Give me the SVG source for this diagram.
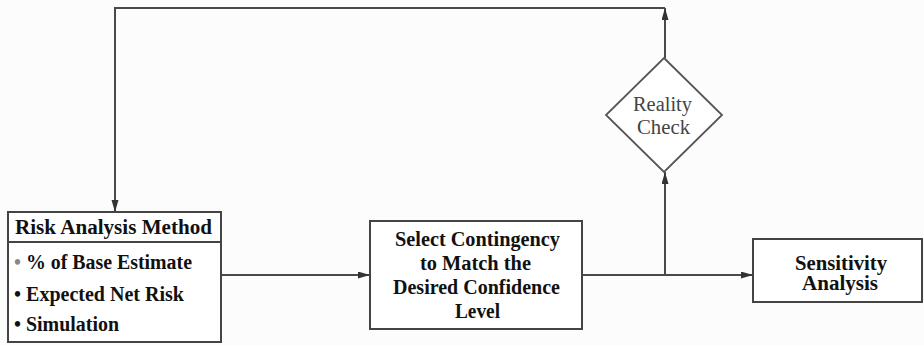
<svg xmlns="http://www.w3.org/2000/svg" width="924" height="345" viewBox="0 0 924 345">
  <style>
    .box { fill: #ffffff; stroke: #444444; stroke-width: 2; }
    .conn { fill: none; stroke: #4a4a4a; stroke-width: 2; }
    .b { font-family: "Liberation Serif", "Times New Roman", serif; font-weight: bold; font-size: 20px; fill: #111111; }
    .r { font-family: "Liberation Serif", "Times New Roman", serif; font-weight: normal; font-size: 20px; fill: #444444; }
  </style>
  <defs>
    <marker id="arrow" markerWidth="13" markerHeight="8" refX="12" refY="3.5" orient="auto" markerUnits="userSpaceOnUse">
      <path d="M0,0 L12,3.5 L0,7 z" fill="#333333"/>
    </marker>
  </defs>
  <rect x="0" y="0" width="924" height="345" fill="#fcfcfc"/>

  <g id="connectors">
    <path class="conn" d="M665,58 V8" marker-end="url(#arrow)"/>
    <path class="conn" d="M665,8 H115 V212" marker-end="url(#arrow)"/>
    <path class="conn" d="M221,275 H370" marker-end="url(#arrow)"/>
    <path class="conn" d="M582,275 H753" marker-end="url(#arrow)"/>
    <path class="conn" d="M665,275 V172" marker-end="url(#arrow)"/>
  </g>

  <g id="risk-analysis-method">
    <rect class="box" x="8" y="212" width="213" height="130"/>
    <line x1="8" y1="242" x2="221" y2="242" stroke="#444444" stroke-width="2"/>
    <text class="b" x="15" y="234" textLength="197" lengthAdjust="spacingAndGlyphs">Risk Analysis Method</text>
    <text class="b" x="14" y="269" textLength="178" lengthAdjust="spacingAndGlyphs"><tspan fill="#888888">•</tspan> % of Base Estimate</text>
    <text class="b" x="14" y="301" textLength="170" lengthAdjust="spacingAndGlyphs">• Expected Net Risk</text>
    <text class="b" x="14" y="331" textLength="105" lengthAdjust="spacingAndGlyphs">• Simulation</text>
  </g>

  <g id="select-contingency">
    <rect class="box" x="370" y="221" width="212" height="108"/>
    <text class="b" x="395" y="246" textLength="165" lengthAdjust="spacingAndGlyphs">Select Contingency</text>
    <text class="b" x="420" y="270" textLength="111" lengthAdjust="spacingAndGlyphs">to Match the</text>
    <text class="b" x="393" y="294" textLength="167" lengthAdjust="spacingAndGlyphs">Desired Confidence</text>
    <text class="b" x="455" y="318" textLength="45" lengthAdjust="spacingAndGlyphs">Level</text>
  </g>

  <g id="reality-check">
    <polygon points="664,58 722,115 664,172 606,115" fill="#ffffff" stroke="#555555" stroke-width="1.8"/>
    <text class="r" x="633" y="111" textLength="59" lengthAdjust="spacingAndGlyphs">Reality</text>
    <text class="r" x="637" y="134" textLength="53" lengthAdjust="spacingAndGlyphs">Check</text>
  </g>

  <g id="sensitivity-analysis">
    <rect class="box" x="753" y="239" width="169" height="63"/>
    <text class="b" x="795" y="270" textLength="92" lengthAdjust="spacingAndGlyphs">Sensitivity</text>
    <text class="b" x="802" y="290" textLength="76" lengthAdjust="spacingAndGlyphs">Analysis</text>
  </g>
</svg>
